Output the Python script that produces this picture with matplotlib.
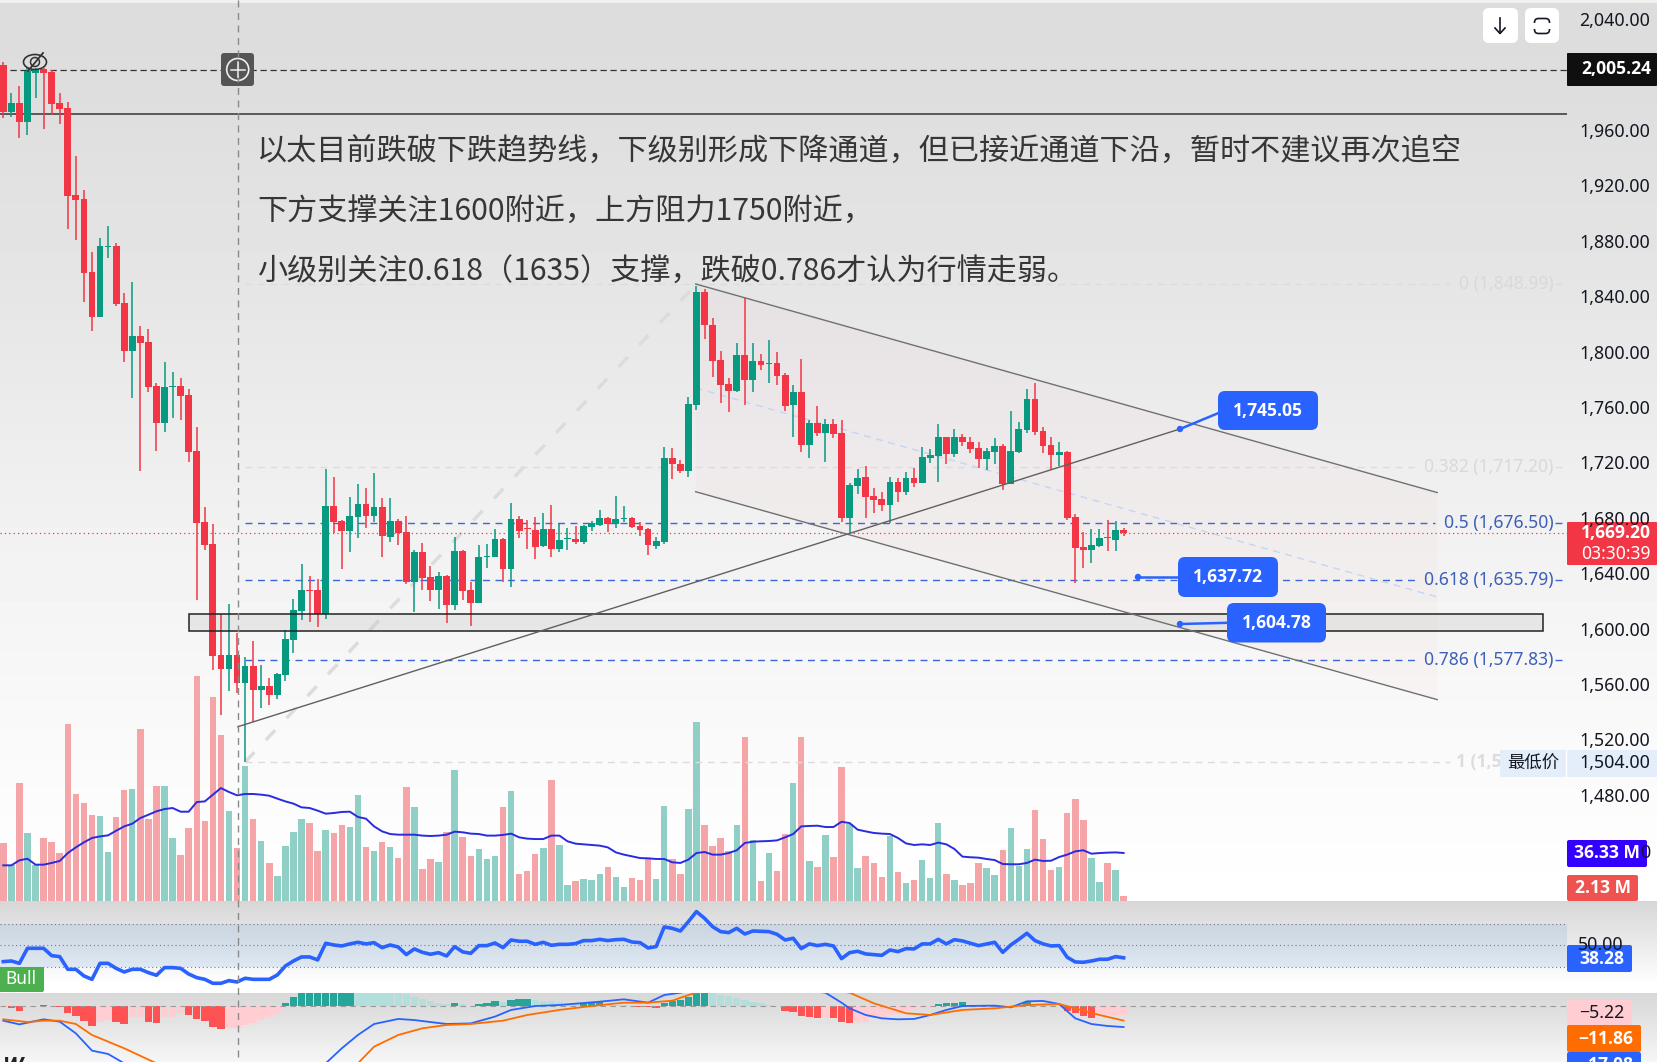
import numpy as np
import matplotlib
matplotlib.use('Agg')
import matplotlib.pyplot as plt
from matplotlib.patches import FancyBboxPatch, Rectangle, Ellipse, Circle

plt.rcParams['font.family'] = ['Open Sans', 'Noto Sans CJK SC', 'DejaVu Sans']

# ---------------- data ----------------
opens = [2007.0,1973.6,1979.6,1966.4,2001.5,2004.2,2002.5,1979.6,1976.5,1913.4,1910.5,1858.0,1825.6,1875.6,1876.6,1835.7,1801.0,1811.6,1807.3,1775.5,
1749.0,1774.5,1775.5,1769.0,1728.6,1677.0,1661.4,1581.3,1571.2,1581.3,1560.8,1573.3,1556.0,1558.9,1552.4,1566.8,1592.1,1613.0,1628.2,1628.2,
1610.6,1688.8,1678.0,1670.8,1680.9,1690.3,1681.6,1688.4,1666.7,1678.0,1670.0,1634.2,1655.7,1637.4,1628.2,1638.3,1617.4,1656.4,1628.2,1619.1,
1652.3,1652.3,1664.8,1643.4,1679.3,1672.6,1671.5,1660.0,1672.0,1657.8,1665.0,1664.8,1662.9,1674.0,1675.2,1680.0,1675.9,1679.5,1680.0,1674.4,
1672.0,1660.0,1662.9,1723.3,1719.0,1714.4,1761.8,1843.4,1819.6,1794.3,1777.0,1771.9,1797.9,1779.9,1793.6,1791.4,1791.9,1783.5,1761.8,1771.2,
1732.9,1748.6,1741.8,1748.1,1741.8,1680.5,1703.3,1709.6,1696.1,1693.9,1689.6,1706.0,1699.2,1708.9,1705.7,1723.3,1725.2,1738.5,1726.4,1738.5,
1735.3,1730.5,1722.8,1728.1,1732.4,1704.8,1727.6,1743.8,1766.1,1743.0,1732.9,1725.7,1728.1,1681.0,1659.3,1657.1,1660.0,1666.1,1664.3,1671.5]
closes = [1973.6,1979.6,1966.4,2003.2,2003.5,2001.8,1979.1,1975.5,1912.7,1909.8,1856.9,1825.6,1876.6,1876.6,1834.7,1801.0,1811.6,1806.8,1775.0,1749.0,
1775.0,1775.5,1768.2,1728.1,1676.8,1660.7,1580.5,1571.2,1581.3,1560.8,1573.3,1556.0,1558.9,1552.4,1567.5,1592.8,1613.8,1628.2,1627.5,1610.6,
1688.8,1677.5,1670.8,1681.6,1690.3,1681.6,1688.4,1667.2,1678.0,1669.6,1634.2,1655.9,1637.1,1628.2,1638.3,1617.4,1656.4,1627.8,1619.1,1651.8,
1652.8,1664.8,1643.2,1679.3,1670.8,1672.3,1659.5,1672.0,1658.1,1664.3,1665.5,1662.6,1674.4,1676.8,1680.0,1675.9,1679.3,1680.0,1673.5,1671.5,
1660.7,1663.6,1723.3,1719.0,1714.4,1762.5,1843.4,1819.6,1793.6,1776.2,1771.9,1797.9,1779.9,1793.6,1790.7,1791.9,1782.7,1761.3,1771.2,1732.9,
1748.6,1741.3,1748.1,1740.9,1680.0,1704.0,1708.9,1695.6,1693.2,1689.6,1706.0,1699.2,1708.9,1705.7,1724.5,1725.7,1738.5,1726.4,1738.5,1735.3,
1730.0,1722.8,1728.6,1732.2,1704.8,1728.6,1744.5,1766.1,1742.6,1732.2,1725.7,1727.6,1680.0,1658.8,1657.1,1660.7,1666.0,1665.5,1671.5,1669.2]
highs = [2009.7,1987.3,1992.0,2004.9,2005.0,2005.0,2004.0,1986.8,1980.8,1941.6,1917.0,1872.5,1882.1,1891.0,1878.5,1842.4,1850.6,1818.8,1816.4,1778.0,
1793.1,1785.9,1781.0,1773.0,1746.0,1688.4,1675.9,1610.9,1618.1,1596.9,1579.6,1591.4,1574.0,1564.4,1568.0,1599.3,1621.7,1647.0,1638.3,1635.9,
1715.6,1709.5,1678.7,1695.6,1704.7,1701.6,1712.4,1694.4,1694.4,1679.2,1681.6,1657.1,1662.0,1645.6,1641.5,1639.0,1666.3,1657.1,1634.2,1660.7,
1661.4,1672.0,1665.5,1691.3,1681.7,1678.8,1681.2,1683.6,1689.6,1675.6,1672.8,1674.4,1675.2,1678.3,1686.0,1681.2,1696.1,1688.9,1680.7,1677.6,
1673.2,1666.7,1731.2,1730.5,1722.1,1767.3,1847.7,1845.3,1824.4,1801.0,1781.0,1806.3,1838.8,1806.3,1798.6,1808.7,1799.8,1784.7,1776.2,1795.0,
1751.0,1761.3,1751.5,1751.5,1751.0,1705.3,1715.4,1717.8,1701.6,1699.2,1710.1,1708.9,1713.7,1716.1,1731.7,1729.8,1748.1,1739.0,1744.5,1740.6,
1738.9,1735.3,1730.5,1738.2,1733.4,1757.5,1749.3,1773.1,1777.4,1745.7,1738.5,1734.9,1728.8,1683.1,1670.3,1672.3,1672.0,1678.8,1678.0,1673.2]
lows = [1968.8,1970.0,1954.3,1956.8,1983.2,1960.8,1971.2,1964.7,1888.6,1881.0,1836.4,1815.5,1825.6,1867.7,1833.3,1793.1,1767.1,1714.4,1771.4,1728.8,
1742.6,1752.2,1751.0,1720.6,1621.0,1657.1,1570.4,1538.0,1555.5,1553.6,1504.0,1533.1,1543.2,1545.2,1549.3,1562.7,1583.0,1606.5,1605.3,1601.7,
1607.3,1669.6,1643.4,1655.9,1666.0,1672.7,1677.5,1652.3,1663.1,1660.7,1632.3,1612.6,1628.2,1620.5,1614.5,1604.2,1613.8,1621.0,1602.5,1619.1,
1643.9,1651.8,1634.2,1630.6,1665.5,1657.6,1650.6,1659.5,1652.3,1655.9,1657.1,1661.4,1661.2,1671.1,1674.7,1670.3,1673.2,1677.6,1672.8,1667.5,
1653.5,1657.6,1661.4,1708.1,1712.5,1710.1,1758.2,1809.5,1781.8,1763.0,1757.0,1771.4,1761.8,1771.4,1787.1,1777.9,1776.2,1757.7,1739.0,1728.1,
1723.8,1739.7,1720.9,1737.7,1677.6,1669.1,1697.5,1680.0,1683.6,1685.5,1676.8,1692.0,1696.8,1702.9,1705.2,1720.2,1706.5,1719.2,1724.0,1732.2,
1727.4,1716.1,1714.9,1719.2,1700.4,1704.8,1726.9,1741.8,1740.1,1727.4,1715.4,1717.8,1678.8,1633.1,1643.9,1648.0,1659.0,1656.6,1656.6,1667.2]
volume_m = [43.9,27.0,89.3,51.5,27.5,47.7,44.7,36.3,134.2,81.0,74.2,65.3,64.6,37.1,63.3,84.3,85.0,130.4,62.3,87.3,
87.3,47.7,35.1,55.3,170.6,60.8,154.2,125.9,67.9,40.1,101.9,62.3,45.7,28.8,19.2,41.9,52.2,62.1,59.0,38.1,
54.0,51.5,57.8,56.0,80.5,40.9,38.1,44.7,41.1,32.8,86.3,71.1,24.5,31.8,29.8,52.2,99.4,48.4,34.3,39.6,
32.0,34.3,71.1,83.5,20.7,23.0,35.8,40.1,91.8,42.6,12.4,15.4,16.9,16.1,20.7,25.7,18.4,10.8,17.7,16.1,
31.8,16.7,72.2,32.0,20.7,69.9,135.7,57.8,41.9,47.9,37.6,57.8,124.4,46.2,15.4,36.6,23.0,51.0,89.6,124.4,
30.3,26.0,50.2,33.6,101.7,58.5,25.2,34.3,28.8,18.4,49.5,22.2,13.9,16.1,31.3,17.7,59.0,20.7,16.1,12.4,
13.9,29.0,25.2,19.9,38.9,55.5,26.2,39.6,69.1,47.2,23.7,26.0,66.9,77.5,61.6,32.8,14.6,29.0,23.7,3.5]
volume_ma = [27.0,27.0,30.8,32.0,27.5,27.5,28.8,30.3,36.3,40.6,44.4,47.7,48.9,49.7,53.2,56.5,58.5,62.8,65.3,67.9,
69.6,70.4,67.6,67.6,74.9,75.4,80.5,85.5,82.5,80.0,81.0,81.0,80.5,79.7,77.5,75.4,73.7,70.9,70.4,68.4,
66.1,66.6,67.4,67.6,63.6,62.3,56.5,52.7,50.7,50.2,50.2,50.2,49.5,49.2,49.5,50.2,52.5,52.0,51.0,50.7,
49.5,49.5,50.0,51.0,48.2,47.2,46.9,46.9,49.5,49.5,45.2,43.4,42.9,42.4,41.9,40.6,36.8,35.1,33.8,32.5,
32.3,31.8,31.8,29.3,28.8,31.3,36.3,37.1,35.1,35.1,36.3,38.4,43.9,44.9,45.2,45.4,45.9,48.2,50.7,56.5,
56.8,57.0,56.0,56.0,60.0,59.0,54.0,52.7,51.5,51.0,50.7,47.7,43.6,42.4,42.9,42.4,44.2,42.9,39.4,33.6,
33.1,32.8,31.8,31.0,28.0,27.8,27.8,28.8,31.3,30.3,30.5,33.3,35.1,37.6,38.4,35.8,36.3,36.6,36.8,36.33]
rsi = [34.7,35.3,33.1,47.2,47.2,47.2,40.3,39.4,27.5,27.5,21.3,18.1,33.1,33.1,28.4,25.0,27.5,27.5,24.4,21.9,
29.1,29.1,28.4,23.1,19.7,18.1,14.4,14.4,16.9,15.6,19.1,18.1,18.1,18.1,22.2,30.6,35.3,39.1,39.1,36.3,
51.9,50.3,49.4,51.3,52.8,51.3,52.5,47.8,50.3,48.4,41.3,46.6,43.4,41.6,43.1,40.0,48.8,43.8,42.5,49.7,
49.7,52.2,47.8,55.0,53.8,53.8,50.9,52.8,50.0,50.9,50.9,51.6,54.4,54.4,55.6,54.4,55.3,55.6,53.1,52.5,
47.5,48.8,67.2,65.9,63.4,72.2,81.6,75.3,67.5,62.8,61.9,65.9,60.6,63.4,63.1,62.8,60.3,55.0,56.6,46.9,
51.3,49.7,50.9,49.4,37.5,43.1,44.4,41.9,41.3,40.6,45.6,44.1,46.9,46.6,51.3,51.3,55.6,51.3,55.3,54.1,
51.9,49.7,51.3,52.8,43.4,50.3,55.6,61.3,54.4,51.3,49.4,49.7,38.8,34.4,34.1,35.3,36.9,36.9,39.4,38.28]
macd_hist = [-1.1,-1.6,-3.8,0.3,0.3,0.8,-0.3,-1.1,-5.4,-8.1,-12.2,-15.9,-12.7,-11.4,-13.0,-14.6,-10.0,-8.6,-12.7,-13.5,
-10.0,-8.6,-5.9,-7.3,-10.5,-12.2,-17.0,-18.6,-18.1,-18.1,-15.4,-13.5,-11.4,-9.2,-6.5,2.7,7.0,11.6,13.0,14.3,
15.7,17.0,18.4,19.7,18.4,17.0,15.7,14.3,13.0,10.3,9.7,7.6,5.7,4.1,2.7,1.6,2.7,1.6,0.3,1.6,
2.7,4.1,3.5,4.9,5.7,5.9,4.9,4.1,3.8,3.5,2.2,1.6,2.7,3.0,3.2,1.6,1.1,0.5,0.3,-0.5,
-1.1,-1.6,2.7,4.3,4.9,7.0,11.4,13.0,10.3,9.2,8.1,6.8,4.9,3.5,2.7,1.1,0.3,-3.8,-4.9,-7.8,
-9.2,-9.5,-8.9,-9.7,-13.2,-13.8,-13.2,-12.7,-10.0,-8.6,-7.3,-5.4,-4.3,-3.2,-1.9,-0.5,1.9,2.2,2.7,3.2,
0.8,0.5,0.3,0.0,-0.8,-1.1,-0.0,3.5,1.6,0.8,0.8,0.3,-4.1,-5.9,-8.1,-9.5,-7.3,-7.3,-7.3,-7.3]
macd_bars = [0,2,5,7,9,11,13,15,20,30,40,42,44,46,49,51,55,58,61,63,66,69,74,77,80,82,84,86,90,95,100,102,104,105,107,109,111,113,115,117,119,123,125,127,129,131,133,135,137,139]
macd_vals = [-11.9,-14.9,-10.8,-12.7,-22.2,-36.2,-38.9,-46.5,-70,-75,-46.5,-34.3,-23.5,-14.6,-10.5,-11.4,-14.6,-14.1,-8.6,-3.2,0.0,0.8,3.5,5.4,2.7,8.9,10.8,13,15,14,12.4,10.8,2.7,-1.9,-7.3,-10,-10.8,-10.5,-7.3,-3.2,0.0,0.3,-1.1,3.8,4.1,1.6,-10,-14.6,-16.2,-17.08]
signal_bars = [0,3,5,7,9,11,15,19,30,44,46,49,52,55,58,62,65,69,73,77,80,83,85,86,90,100,105,108,112,115,119,123,127,131,133,136,139]
signal_vals = [-10.8,-13,-11.9,-11.9,-14.6,-23.5,-34.3,-46.5,-70,-46.5,-33,-23.5,-18.1,-15.4,-14.6,-11.9,-7.3,-3.2,0.0,2.7,2.7,4.3,8.9,10.8,14.3,15.7,10.8,2.2,-5.9,-7.3,-3.2,-1.9,0.8,1.6,-1.9,-7.3,-11.86]

price_ticks = [2040,1960,1920,1880,1840,1800,1760,1720,1680,1640,1600,1560,1520,1480]
fib_levels = [0.0,0.382,0.5,0.618,0.786,1.0]
fib_prices = [1848.99,1717.20,1676.50,1635.79,1577.83,1504.00]
fib_labels = ['0 (1,848.99)','0.382 (1,717.20)','0.5 (1,676.50)','0.618 (1,635.79)','0.786 (1,577.83)','1 (1,504.00)']
fib_ends = [179.5,175.2,177.6,175.2,175.2,179.5]
notes = ['以太目前跌破下跌趋势线，下级别形成下降通道，但已接近通道下沿，暂时不建议再次追空',
         '下方支撑关注1600附近，上方阻力1750附近，',
         '小级别关注0.618（1635）支撑，跌破0.786才认为行情走弱。']
last_price = 1669.20
cross_price = 2004.0
top_line_price = 1971.9
box_bars = [23.0,191.0]; box_prices = [1610.9,1598.3]
trend_bars = [29.1,146.0]; trend_prices = [1529.5,1744.5]
fib_diag_bars = [30,86]; fib_diag_prices = [1504.0,1849.0]
chan_bars = [85.9,177.9]
chan_up = [1849.2,1698.6]; chan_mid = [1774.1,1623.2]; chan_lo = [1699.2,1549.1]

# ---------------- figure + scales ----------------
W, H = 1657, 1062
SPLIT = 1567
NUM = ['Noto Sans', 'DejaVu Sans']
BOLD = ['Open Sans', 'DejaVu Sans']
fig = plt.figure(figsize=(W/100, H/100), dpi=100, facecolor='white')
def pane(x0, y0, x1, y1, z):
    a = fig.add_axes([x0/W, 1-y1/H, (x1-x0)/W, (y1-y0)/H], zorder=z)
    a.patch.set_visible(False)
    a.set_axis_off()
    return a

# background gradient
bg = pane(0, 0, W, H, 0)
ys = np.arange(H)
grey = np.where(ys < 901, np.interp(ys, [0,2,3,100,300,500,700,900], [240,240,220,222,230,240,248,255]),
       np.where(ys < 993, np.interp(ys, [901,985,992], [214,255,255]),
                np.interp(ys, [993,1010,1062], [216,222,246])))
bg.imshow(grey[:, None], cmap='gray', vmin=0, vmax=255, aspect='auto', extent=(0, W, H, 0))

XMIN, XMAX = -3.3/8.06, (SPLIT-3.3)/8.06
idx = np.arange(len(opens))
opens_a, closes_a = np.array(opens), np.array(closes)
up = closes_a >= opens_a
UP, DOWN = '#089981', '#f23645'

# volume pane
vol = pane(0, 640, SPLIT, 901, 1)
vol.set_xlim(XMIN, XMAX); vol.set_ylim(0, 261*0.757)
vol.bar(idx, volume_m, width=0.8, color=np.where(up, '#8fcfc5', '#f5a5a8'), linewidth=0)
vol.plot(idx, volume_ma, color='#2a2be0', lw=1.4)

# price pane
ax = pane(0, 0, SPLIT, H, 2)
ax.set_xlim(XMIN, XMAX)
ax.set_ylim(1960-(H-130.5)/1.385, 1960+130.5/1.385)
ax.plot(fib_diag_bars, fib_diag_prices, color='#dcdcdc', lw=2.5, ls=(0, (3.9, 4.8)), zorder=1)
ax.fill_between(chan_bars, chan_lo, chan_up, color='#f23645', alpha=0.022, lw=0, zorder=1)
ax.add_patch(Rectangle((box_bars[0], box_prices[1]), box_bars[1]-box_bars[0], box_prices[0]-box_prices[1],
                       fc='#bdbdbd', alpha=0.25, ec='none', zorder=1))
ax.vlines(idx, lows, highs, colors=np.where(up, UP, DOWN), lw=1.1, zorder=3)
for i in idx:
    ax.bar(i, max(abs(closes[i]-opens[i]), 0.7), bottom=min(opens[i], closes[i]), width=0.84,
           color=UP if up[i] else DOWN, lw=0, zorder=4)
ax.add_patch(Rectangle((box_bars[0], box_prices[1]), box_bars[1]-box_bars[0], box_prices[0]-box_prices[1],
                       fc='none', ec='#222222', lw=1.1, zorder=5))
for lev, p, lab, end in zip(fib_levels, fib_prices, fib_labels, fib_ends):
    strong = lev in (0.5, 0.618, 0.786)
    col = '#3b66d9' if strong else '#dcdcdc'
    ax.plot([30, end], [p, p], color=col, lw=1.0, ls=(0, (5, 4)), zorder=2)
    if lev != 1.0:
        ax.plot([192.5, XMAX], [p, p], color=col, lw=1.0, ls=(0, (5, 4)), zorder=2)
        ax.text(192.3, p, lab, ha='right', va='center', fontsize=12.6, family=NUM, color='#3d5fb8' if strong else '#d9d9d9', zorder=6)
    else:
        ax.text(180.2, p, lab, ha='left', va='center', fontsize=12.6, family=BOLD, color='#dcdcdc', fontweight='bold', zorder=6)
ax.plot(chan_bars, chan_up, color='#707070', lw=1.0, zorder=5)
ax.plot(chan_bars, chan_lo, color='#707070', lw=1.0, zorder=5)
ax.plot(chan_bars, chan_mid, color='#c4d6f2', lw=1.0, ls=(0, (5, 4)), zorder=2)
ax.plot(trend_bars, trend_prices, color='#606060', lw=1.0, zorder=5)
ax.axhline(last_price, color='#f23645', lw=0.9, ls=(0, (1, 2.5)), zorder=2)
ax.axhline(top_line_price, color='#333333', lw=1.1, zorder=2)
ax.axhline(cross_price, color='#333333', lw=0.9, ls=(0, (5, 3)), zorder=2)

# RSI pane
rp = pane(0, 901, SPLIT, 992.7, 2)
rp.set_xlim(XMIN, XMAX)
rp.set_ylim(50-47.4/1.067, 50+44.3/1.067)
rp.axhspan(30, 70, color='#2f82d6', alpha=0.12, lw=0)
for lv in (30, 50, 70):
    rp.axhline(lv, color='#787b86', lw=0.8, ls=(0, (1, 2.5)))
rp.plot(idx, rsi, color='#2962ff', lw=2.6, solid_joinstyle='round')

# MACD pane
mp = pane(0, 992.7, SPLIT, H, 2)
mp.set_xlim(XMIN, XMAX)
mp.set_ylim(-56/1.233, 13.3/1.233)
mp.axhline(0, color='#9a9a9a', lw=0.8, ls=(0, (5, 4)))
prev = [macd_hist[0]] + macd_hist[:-1]
hcols = []
for h, q in zip(macd_hist, prev):
    if h >= 0:
        hcols.append('#26a69a' if h > q else '#b2dfdb')
    else:
        hcols.append('#ff5252' if h < q else '#ffcdd2')
mp.bar(idx, macd_hist, width=0.92, color=hcols, lw=0)
mp.plot(macd_bars, macd_vals, color='#2962ff', lw=1.3)
mp.plot(signal_bars, signal_vals, color='#ff6d00', lw=1.3)

# overlay in pixels for the interface elements
ov = pane(0, 0, W, H, 5)
ov.set_xlim(0, W); ov.set_ylim(H, 0)
def py(p):
    return H - ax.transData.transform((0, p))[1]
def box(x0, y0, x1, y1, c, r=4, **kw):
    ov.add_patch(FancyBboxPatch((x0, y0), x1-x0, y1-y0, boxstyle=f'round,pad=0,rounding_size={r}',
                                fc=c, ec='none', **kw))

ov.plot([237.7, 237.7], [0, H], color='#8a8a8a', lw=1.0, ls=(0, (5, 4)))
for txt, yc in zip(notes, [152, 211, 272.5]):
    ov.text(257, yc, txt, fontsize=21.7, family=['Noto Sans CJK SC'], color='#363636', ha='left', va='center')

for p in price_ticks:
    ov.text(1650, py(p)+1.5, f'{p:,.2f}', ha='right', va='center', fontsize=12.8, family=NUM, color='#131722')
ov.text(1650, 853, '0', ha='right', va='center', fontsize=12.8, family=NUM, color='#131722')
ov.text(1624, 945, '50.00', ha='right', va='center', fontsize=12.8, family=NUM, color='#131722')

# crosshair button
box(221, 53, 254, 86, '#555555', r=3)
ov.add_patch(Circle((237.7, 69.5), 11, fc='none', ec='#f0f0f0', lw=1.2))
ov.plot([230.5, 245], [69.5, 69.5], color='#f0f0f0', lw=1.1)
ov.plot([237.7, 237.7], [62, 77], color='#f0f0f0', lw=1.1)

# hide-eye icon
ov.add_patch(Ellipse((35, 62), 23, 15, fc='none', ec='#333333', lw=1.2))
ov.add_patch(Ellipse((35, 62), 9, 9, fc='none', ec='#333333', lw=1.1))
ov.plot([28, 43], [71, 53], color='#333333', lw=1.3)

# top-right buttons
box(1483, 8, 1518, 43, '#ffffff', r=6)
box(1525, 8, 1559, 43, '#ffffff', r=6)
ov.plot([1500, 1500], [18, 33], color='#131722', lw=1.2)
ov.plot([1495, 1500, 1505], [28, 33.5, 28], color='#131722', lw=1.2)
ov.add_patch(FancyBboxPatch((1534.5, 18.5), 15, 15, boxstyle='round,pad=0,rounding_size=4', fc='none', ec='#131722', lw=1.2))
ov.add_patch(Rectangle((1532, 23), 20, 6, fc='white', ec='none', zorder=3))

# right-scale labels
LB = dict(ha='right', va='center', color='white', fontsize=12.6, fontweight='bold', family=BOLD)
box(1567, 53, 1657, 86, '#0f0f0f', r=1)
ov.text(1651, 69.5, '2,005.24', **LB)
box(1567, 522, 1657, 565, '#f23645', r=1)
ov.text(1651, 533, '1,669.20', **LB)
ov.text(1651, 554, '03:30:39', ha='right', va='center', color='white', fontsize=12.6, family=NUM)
ov.add_patch(Rectangle((1500, 750), 157, 27, fc='#e3eefa', ec='none'))
ov.plot([1566, 1566], [750, 777], color='white', lw=1)
ov.text(1533, 763.5, '最低价', family=['Noto Sans CJK SC'], ha='center', va='center', fontsize=12.5, color='#131722')
ov.text(1650, 763, '1,504.00', ha='right', va='center', fontsize=12.8, family=NUM, color='#131722')
box(1567, 840, 1647, 867, '#3300ff', r=2)
ov.text(1640, 853.5, '36.33 M', **LB)
box(1567, 875, 1638, 901, '#ef5350', r=2)
ov.text(1631, 888, '2.13 M', **LB)
box(1567, 945, 1632, 972, '#2962ff', r=2)
ov.text(1624, 958.5, '38.28', **LB)
ov.add_patch(Rectangle((1567, 1000), 65, 25, fc='#ffcdd2', ec='none'))
ov.text(1624, 1013, '−5.22', ha='right', va='center', color='#131722', fontsize=12.8, family=NUM)
box(1567, 1025, 1641, 1052, '#ff6d00', r=2)
ov.text(1633, 1038.5, '−11.86', **LB)
box(1567, 1052, 1641, 1075, '#2962ff', r=2)
ov.text(1633, 1065.5, '−17.08', clip_on=True, **LB)

# price callouts
callouts = [('1,745.05', (1180, 429), (1218, 391, 1318, 430)),
            ('1,637.72', (1138, 577), (1178, 557, 1278, 597)),
            ('1,604.78', (1180, 624), (1227, 603, 1326, 642.5))]
for txt, (dx, dy), (x0, y0, x1, y1) in callouts:
    ov.plot([dx, x0+3], [dy, (y0+y1)/2 if txt != '1,745.05' else y1-18], color='#2962ff', lw=1.8)
    ov.add_patch(Circle((dx, dy), 3.2, fc='#2962ff', ec='none', zorder=4))
    box(x0, y0, x1, y1, '#2962ff', r=7, zorder=4)
    ov.text((x0+x1)/2, (y0+y1)/2, txt, ha='center', va='center', color='white', fontsize=12.6, fontweight='bold', family=BOLD, zorder=5)

# Bull tag and logo fragment
box(-6, 967, 44, 992, '#4caf50', r=2)
ov.text(5, 979.5, 'Bull', ha='left', va='center', color='white', fontsize=12.5, family=NUM)
ov.text(3, 1066, 'W', ha='left', va='center', color='#222222', fontsize=16, fontweight='bold', style='italic', family=BOLD, clip_on=True)

fig.savefig('out.png', dpi=100)
